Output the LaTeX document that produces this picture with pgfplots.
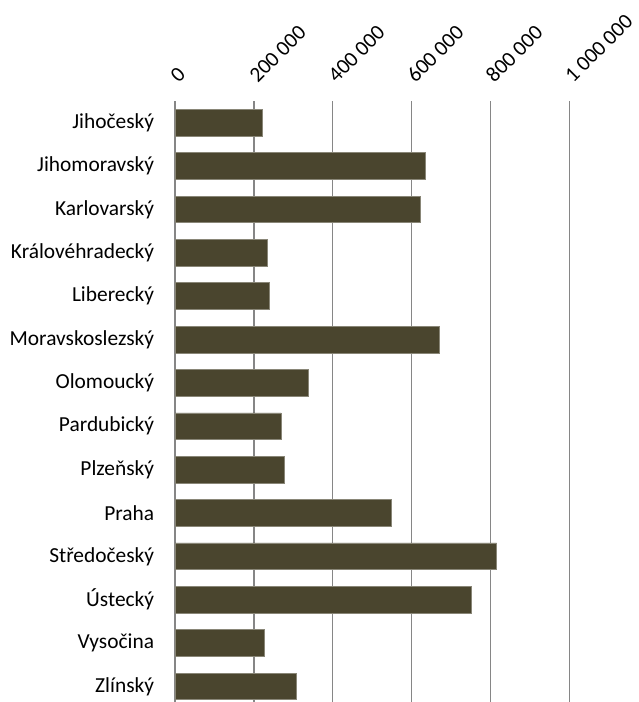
\documentclass[border=0pt]{standalone}
\usepackage{pgfplots}
\pgfplotsset{compat=1.18}
\usepackage{fontspec}
\setmainfont{Carlito}
\definecolor{barc}{RGB}{74,69,46}
\definecolor{gridc}{RGB}{134,134,134}
\begin{document}
\begin{tikzpicture}
\begin{axis}[
  at={(175pt,-101pt)}, anchor=north west,
  scale only axis, width=394.5pt, height=601pt,
  xmin=0, xmax=1000000, ymin=-0.5, ymax=13.36, y dir=reverse,
  axis line style={draw=none},
  major tick length=0pt,
  xtick={0,200000,400000,600000,800000,1000000},
  xticklabels={0,200 000,400 000,600 000,800 000,1 000 000},
  xticklabel pos=right,
  scaled x ticks=false,
  xmajorgrids,
  grid style={gridc, line width=1.3pt},
  ytick={0,...,13},
  yticklabels={Jihočeský,Jihomoravský,Karlovarský,Královéhradecký,Liberecký,Moravskoslezský,Olomoucký,Pardubický,Plzeňský,Praha,Středočeský,Ústecký,Vysočina,Zlínský},
  every tick label/.append style={font=\fontsize{21.4pt}{25pt}\selectfont, text=black},
  xticklabel style={xshift=4pt, yshift=17pt, rotate=45, anchor=south west, inner sep=0pt},
  yticklabel style={anchor=east, inner sep=0pt, xshift=-20.7pt},
  xbar, bar width=26.7pt,
]
\addplot[xbar, fill=barc, draw=barc!65!white, line width=0.6pt] coordinates {
(222000,0) (634000,1) (621000,2) (235000,3) (240000,4) (671000,5) (339000,6)
(269000,7) (276000,8) (549000,9) (815000,10) (750000,11) (226000,12) (308000,13)};
\end{axis}
\pgfresetboundingbox
\path (0,0) rectangle (638pt,-702pt);
\end{tikzpicture}
\end{document}
